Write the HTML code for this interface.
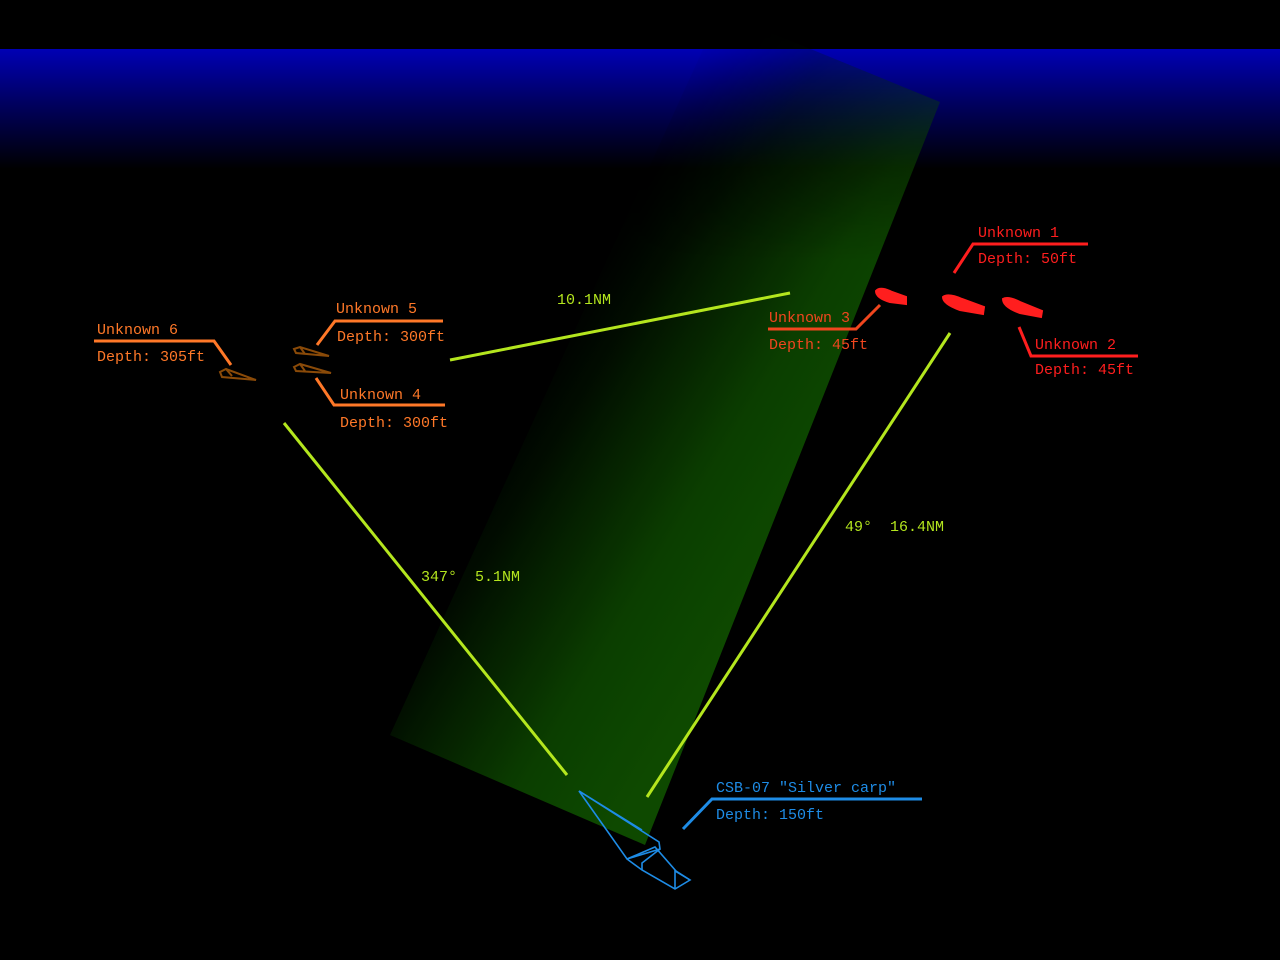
<!DOCTYPE html>
<html><head><meta charset="utf-8"><style>
html,body{margin:0;padding:0;background:#000;}
svg{display:block}
text{font-family:"Liberation Mono","Noto Sans CJK JP",monospace;font-size:15px;white-space:pre;}
</style></head><body>
<svg width="1280" height="960" viewBox="0 0 1280 960" xmlns="http://www.w3.org/2000/svg">
<defs>
<linearGradient id="sea" x1="0" y1="0" x2="0" y2="1">
<stop offset="0" stop-color="#0000b4"/>
<stop offset="0.45" stop-color="#000060"/>
<stop offset="1" stop-color="#000000"/>
</linearGradient>
<linearGradient id="beam" gradientUnits="userSpaceOnUse" x1="800" y1="520" x2="510" y2="345">
<stop offset="0" stop-color="#105000"/>
<stop offset="0.3" stop-color="#0c4400"/>
<stop offset="0.65" stop-color="#041a00"/>
<stop offset="1" stop-color="#000000" stop-opacity="0"/>
</linearGradient>
<linearGradient id="topfade" gradientUnits="userSpaceOnUse" x1="0" y1="20" x2="0" y2="260">
<stop offset="0" stop-color="#fff" stop-opacity="0.15"/>
<stop offset="1" stop-color="#fff" stop-opacity="1"/>
</linearGradient>
<mask id="m"><rect x="0" y="0" width="1280" height="960" fill="url(#topfade)"/></mask>
</defs>
<rect x="0" y="0" width="1280" height="960" fill="#000"/>
<rect x="0" y="49" width="1280" height="120" fill="url(#sea)"/>
<polygon points="645,845 940,102 720,12 390,735" fill="url(#beam)" opacity="0.92" mask="url(#m)"/>

<g stroke="#b4e61e" stroke-width="3" fill="none">
<line x1="450" y1="360" x2="790" y2="293"/>
<line x1="284" y1="423" x2="567" y2="775"/>
<line x1="647" y1="797" x2="950" y2="333"/>
</g>
<g fill="#b4e61e">
<text x="557" y="304">10.1NM</text>
<text x="421" y="581">347°  5.1NM</text>
<text x="845" y="531">49°  16.4NM</text>
</g>

<g stroke="#8a4a08" stroke-width="2" fill="none">
<path d="M220,372 L226,369 L256,380 L222,377 Z M226,369 L232,376"/>
<path d="M294,349 L300,347 L329,356 L296,353 Z M300,347 L305,354"/>
<path d="M294,367 L300,364 L331,373 L296,371 Z M300,364 L305,371"/>
</g>
<g stroke="#ff7828" stroke-width="3" fill="none">
<polyline points="94,341 214,341 231,365"/>
<polyline points="317,345 335,321 443,321"/>
<polyline points="316,378 334,405 445,405"/>
</g>
<g fill="#ff7828">
<text x="97" y="334">Unknown 6</text>
<text x="97" y="361">Depth: 305ft</text>
<text x="336" y="313">Unknown 5</text>
<text x="337" y="341">Depth: 300ft</text>
<text x="340" y="399">Unknown 4</text>
<text x="340" y="427">Depth: 300ft</text>
</g>

<g fill="#ff1e1e" stroke="#ff1e1e" stroke-width="2">
<path d="M876,291 Q880,286 892,292 L906,297 L906,304 L890,302 Q876,298 876,291 Z"/>
<path d="M943,297 Q948,293 962,299 L984,307 L983,314 L960,310 Q943,304 943,297 Z"/>
<path d="M1003,299 Q1008,296 1020,302 L1042,311 L1041,317 L1020,313 Q1003,307 1003,299 Z"/>
</g>
<g stroke="#ff1e1e" stroke-width="3" fill="none">
<polyline points="954,273 973,244 1088,244"/>
<polyline points="1019,327 1031,356 1138,356"/>
</g>
<g stroke="#f0461e" stroke-width="3" fill="none">
<polyline points="768,329 856,329 880,305"/>
</g>
<g fill="#ff1e1e">
<text x="978" y="237">Unknown 1</text>
<text x="978" y="263">Depth: 50ft</text>
<text x="1035" y="349">Unknown 2</text>
<text x="1035" y="374">Depth: 45ft</text>
</g>
<g fill="#f0461e">
<text x="769" y="322">Unknown 3</text>
<text x="769" y="349">Depth: 45ft</text>
</g>

<g stroke="#1e8ce6" stroke-width="1.6" fill="none">
<path d="M579,791 L659,842 L660,849 L627,859 Z"/>
<path d="M579,791 L642,830"/>
<path d="M627,859 L642,870 L675,889 L690,880 L676,871 L655,847 L641,853 L627,859"/>
<path d="M642,870 L642,863 L660,849 M675,889 L675,871 L690,880"/>
</g>
<g stroke="#1e8ce6" stroke-width="3" fill="none">
<polyline points="683,829 712,799 922,799"/>
</g>
<g fill="#1e8ce6">
<text x="716" y="792">CSB-07 ″Silver carp″</text>
<text x="716" y="819">Depth: 150ft</text>
</g>
</svg>
</body></html>
